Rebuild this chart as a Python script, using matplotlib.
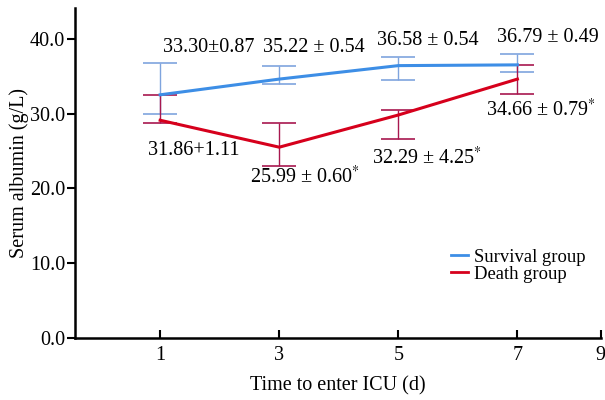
import matplotlib
matplotlib.use("Agg")
import matplotlib.pyplot as plt
from matplotlib.lines import Line2D

plt.rcParams['font.family'] = ['Liberation Serif', 'DejaVu Serif']
plt.rcParams['mathtext.fontset'] = 'stix'

days = [1, 3, 5, 7]
tick_labels = ['1', '3', '5', '7', '9']

survival_mean = [32.5, 34.6, 36.4, 36.5]
survival_low = [30.0, 34.0, 34.5, 35.6]
survival_high = [36.8, 36.4, 37.6, 38.0]

death_mean = [29.1, 25.5, 29.8, 34.6]
death_low = [28.7, 23.0, 26.6, 32.6]
death_high = [32.5, 28.7, 30.5, 36.5]

survival_labels = ['33.30±0.87', '35.22 ± 0.54', '36.58 ± 0.54', '36.79 ± 0.49']
death_labels = ['31.86+1.11', '25.99 ± 0.60$^{*}$', '32.29 ± 4.25$^{*}$', '34.66 ± 0.79$^{*}$']

blue = '#3d8ee6'
blue_err = '#7fa4de'
red = '#d6001c'
red_err = '#a8184f'

fs = 14.5

fig = plt.figure(figsize=(6.05, 4.0), dpi=100)
ax = fig.add_axes([0.124, 0.155, 0.869, 0.825])

def errbars(ax, means, lows, highs, color):
    yerr = [[m - l for m, l in zip(means, lows)], [h - m for m, h in zip(means, highs)]]
    ax.errorbar(days, means, yerr=yerr, fmt='none', ecolor=color, elinewidth=1.0,
                capsize=12, capthick=1.2, zorder=2)

errbars(ax, survival_mean, survival_low, survival_high, blue_err)
errbars(ax, death_mean, death_low, death_high, red_err)
ax.plot(days, survival_mean, color=blue, lw=2.2, zorder=3)
ax.plot(days, death_mean, color=red, lw=2.2, zorder=3)

s_pos = [(1.81, 38.8), (3.59, 38.8), (5.50, 39.8), (7.52, 40.2)]
d_pos = [(1.57, 25.1), (3.44, 21.5), (5.49, 24.1), (7.39, 30.5)]
for (x, y), t in zip(s_pos, survival_labels):
    ax.text(x, y, t, ha='center', va='center', fontsize=fs)
for (x, y), t in zip(d_pos, death_labels):
    ax.text(x, y, t, ha='center', va='center', fontsize=fs)

ax.set_xlim(-0.43, 8.4)
ax.set_ylim(0, 44.1)
ax.set_xticks([1, 3, 5, 7, 8.4])
ax.set_xticklabels(tick_labels)
ax.set_yticks([0, 10, 20, 30, 40])
ax.set_yticklabels(['0.0', '10.0', '20.0', '30.0', '40.0'])
ax.tick_params(axis='both', labelsize=fs, width=1.5, length=6)
ax.tick_params(axis='x', direction='in', pad=6)
ax.tick_params(axis='y', direction='out', length=6, pad=1)
for side in ['top', 'right']:
    ax.spines[side].set_visible(False)
for side in ['left', 'bottom']:
    ax.spines[side].set_linewidth(1.8)

ax.set_xlabel('Time to enter ICU (d)', fontsize=fs, labelpad=8)
ax.set_ylabel('Serum albumin (g/L)', fontsize=fs, labelpad=1)

handles = [Line2D([0], [0], color=blue, lw=2), Line2D([0], [0], color=red, lw=2)]
ax.legend(handles, ['Survival group', 'Death group'], loc='upper left',
          bbox_to_anchor=(0.716, 0.27), frameon=False, fontsize=13.4,
          handlelength=0.9, handletextpad=0.3, labelspacing=0.0, borderpad=0,
          borderaxespad=0)

fig.savefig('out.png', dpi=100)
